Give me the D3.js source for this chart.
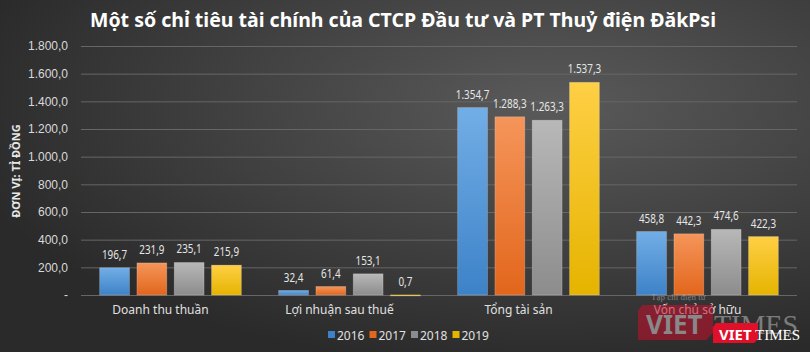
<!DOCTYPE html>
<meta charset="utf-8">
<style>
body { margin: 0; background: #333; }
svg { display: block; font-family: "Noto Sans", "Open Sans", sans-serif; }
.grid line { stroke: #666; stroke-width: 1; }
.tick text { fill: #d9d9d9; font-size: 12px; }
.lbl { fill: #e6e6e6; font-size: 13px; text-anchor: middle; }
.cat { fill: #e0e0e0; font-size: 12px; text-anchor: middle; }
</style>
<svg class="chart"></svg>
<script src="https://cdn.jsdelivr.net/npm/d3@7"></script>
<script>
var categories = ["Doanh thu thuần", "Lợi nhuận sau thuế", "Tổng tài sản", "Vốn chủ sở hữu"];
var years = ["2016", "2017", "2018", "2019"];
var v2016 = [196.7, 32.4, 1354.7, 458.8];
var v2017 = [231.9, 61.4, 1288.3, 442.3];
var v2018 = [235.1, 153.1, 1263.3, 474.6];
var v2019 = [215.9, 0.7, 1537.3, 422.3];
var yTicks = [0, 200, 400, 600, 800, 1000, 1200, 1400, 1600, 1800];

var series = [v2016, v2017, v2018, v2019];
var colors = [["#72aee6", "#3d82c8"], ["#f5955a", "#e2661c"], ["#b8b8b8", "#8c8c8c"], ["#ffcf45", "#e5b400"]];

var width = 810, height = 352;
var plotLeft = 81, plotRight = 797, plotTop = 46, plotBottom = 295;

var svg = d3.select(".chart").attr("width", width).attr("height", height);
var defs = svg.append("defs");

// background
var bg = defs.append("radialGradient").attr("id", "bg")
  .attr("cx", "68%").attr("cy", "30%").attr("r", "75%");
bg.append("stop").attr("offset", "0%").attr("stop-color", "#5a5a5a");
bg.append("stop").attr("offset", "100%").attr("stop-color", "#2a2a2a");
svg.append("rect").attr("width", width).attr("height", height).attr("fill", "url(#bg)");

// bar gradients
colors.forEach(function(c, i) {
  var g = defs.append("linearGradient").attr("id", "g" + i)
    .attr("x1", 0).attr("y1", 0).attr("x2", 0).attr("y2", 1);
  g.append("stop").attr("offset", "0%").attr("stop-color", c[0]);
  g.append("stop").attr("offset", "100%").attr("stop-color", c[1]);
});

var x0 = d3.scaleBand().domain(categories).range([plotLeft, plotRight]).paddingInner(0).paddingOuter(0);
var x1 = d3.scaleBand().domain(years).range([0, x0.bandwidth()]).paddingInner(0.2).paddingOuter(0.5);
var y = d3.scaleLinear().domain([0, 1800]).range([plotBottom, plotTop]);

var fmt = function(v) {
  if (v === 0) return "-";
  var s = d3.format(",.1f")(v);
  return s.replace(/,/g, "#").replace(".", ",").replace(/#/g, ".");
};

// narrower label width, like the condensed font of the original
var labelWidth = function(s) {
  var digits = s.replace(/[^0-9]/g, "").length;
  return digits * 5.6 + (s.length - digits) * 2.8;
};

// gridlines + y axis
var yAxis = d3.axisLeft(y).tickValues(yTicks).tickFormat(fmt).tickSize(0).tickPadding(13);
var ga = svg.append("g").attr("class", "grid").attr("transform", "translate(" + plotLeft + ",0)").call(yAxis);
ga.select(".domain").remove();
ga.selectAll(".tick line").attr("x2", plotRight - plotLeft);
ga.selectAll(".tick text").attr("x", -13);
ga.selectAll(".tick").filter(function(d) { return d === 0; }).select("line").attr("stroke", "#8a8a8a").attr("stroke-width", 1.5);

// y title
svg.append("text")
  .attr("transform", "translate(20," + 171 + ") rotate(-90)")
  .attr("text-anchor", "middle")
  .attr("fill", "#e8e8e8")
  .style("font-size", "11px").style("font-weight", "bold")
  .text("ĐƠN VỊ: TỈ ĐỒNG");

// bars
var groups = svg.selectAll("g.cat-g").data(categories).enter().append("g")
  .attr("class", "cat-g")
  .attr("transform", function(d) { return "translate(" + x0(d) + ",0)"; });

groups.each(function(cat, ci) {
  var g = d3.select(this);
  var rows = years.map(function(yr, si) { return { yr: yr, si: si, v: series[si][ci] }; });
  g.selectAll("rect").data(rows).enter().append("rect")
    .attr("x", function(d) { return x1(d.yr); })
    .attr("y", function(d) { return y(d.v); })
    .attr("width", x1.bandwidth())
    .attr("height", function(d) { return Math.max(1, y(0) - y(d.v)); })
    .attr("fill", function(d) { return "url(#g" + d.si + ")"; })
    .attr("stroke", "rgba(255,255,255,0.25)").attr("stroke-width", 0.8);
  g.selectAll("text.lbl").data(rows).enter().append("text")
    .attr("class", "lbl")
    .attr("x", function(d) { return x1(d.yr) + x1.bandwidth() / 2; })
    .attr("y", function(d) { return y(d.v) - 9; })
    .attr("textLength", function(d) { return labelWidth(fmt(d.v)); })
    .attr("lengthAdjust", "spacingAndGlyphs")
    .text(function(d) { return fmt(d.v); });
});

// category labels
svg.selectAll("text.cat").data(categories).enter().append("text")
  .attr("class", "cat")
  .attr("x", function(d) { return x0(d) + x0.bandwidth() / 2 - 10; })
  .attr("y", 314)
  .text(function(d) { return d; });

// legend
var legend = svg.selectAll("g.leg").data(years).enter().append("g")
  .attr("class", "leg")
  .attr("transform", function(d, i) { return "translate(" + (328 + i * 41.5) + ",335)"; });
legend.append("rect").attr("x", 0).attr("y", -4).attr("width", 7).attr("height", 7)
  .attr("fill", function(d, i) { return colors[i][1]; });
legend.append("text").attr("x", 9).attr("y", 4.5)
  .attr("fill", "#e0e0e0").style("font-size", "12px")
  .text(function(d) { return d; });

// title
svg.append("text")
  .attr("x", 403).attr("y", 27)
  .attr("text-anchor", "middle")
  .attr("fill", "#ffffff")
  .style("font-size", "20px").style("font-weight", "bold")
  .attr("textLength", 626).attr("lengthAdjust", "spacingAndGlyphs")
  .text("Một số chỉ tiêu tài chính của CTCP Đầu tư và PT Thuỷ điện ĐăkPsi");

// watermark
var wm = svg.append("g").attr("opacity", 0.55);
wm.append("path").attr("d", "M642,305 L713,305 L713,333 L706,340 L638,340 L638,311 Z").attr("fill", "#c8102e");
wm.append("text").attr("x", 646).attr("y", 334).attr("fill", "#d0d0d0")
  .style("font-size", "26px").style("font-weight", "bold").text("VIET");
wm.append("text").attr("x", 714).attr("y", 334).attr("fill", "#bbbbbb")
  .style("font-family", "Liberation Serif").style("font-size", "28px").text("TIMES");
wm.append("text").attr("x", 651).attr("y", 300).attr("fill", "#bbbbbb")
  .style("font-family", "Liberation Serif").style("font-size", "9px").text("Tạp chí điện tử");

var lg = svg.append("g");
lg.append("path").attr("d", "M716,323 L758,323 L758,339 L754,343 L713,343 L713,327 Z").attr("fill", "#e0102a");
lg.append("text").attr("x", 719).attr("y", 340).attr("fill", "#ffffff")
  .style("font-size", "15px").style("font-weight", "bold").text("VIET");
lg.append("text").attr("x", 755).attr("y", 340).attr("fill", "#ffffff")
  .style("font-family", "Liberation Serif").style("font-size", "15px").text("TIMES");
</script>
